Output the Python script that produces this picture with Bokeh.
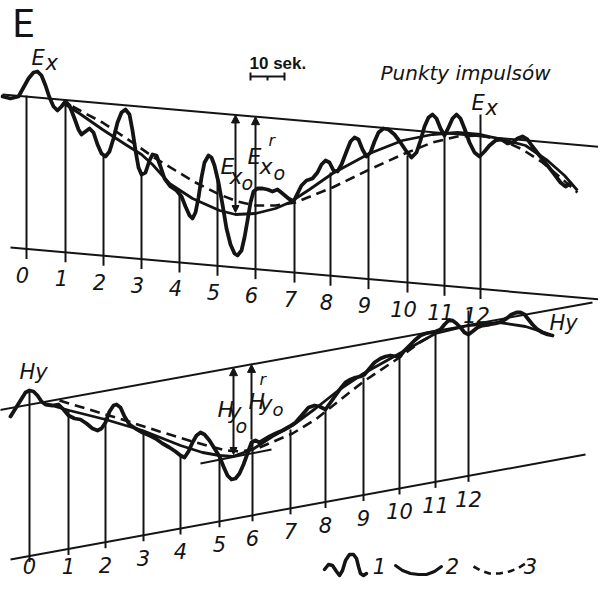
import numpy as np
from bokeh.plotting import figure
from bokeh.models import Range1d, Arrow, NormalHead
from bokeh.core.properties import value
from bokeh.embed import file_html
from bokeh.resources import INLINE

# ---------------- data ----------------
IMPULSE_LABELS = [str(i) for i in range(13)]

# Panel E (Ex)
E_IMPULSE_X = [34, 73, 111, 149, 187, 225, 263, 302, 338, 376, 415, 452, 488]
E_IMPULSE_TOP = [103, 110, 163, 182, 198, 186, 196, 210, 180, 163, 163, 143, 122]
E_UPPER_X = [10, 614]
E_UPPER_Y = [102, 155]
E_LOWER_X = [18, 607]
E_LOWER_Y = [255, 307]
E_RAW_X = [10, 18, 26, 31, 36, 41, 45, 49, 53, 57, 61, 65, 69, 73, 77, 82, 86, 89, 93, 97,
           101, 105, 109, 113, 117, 121, 125, 129, 133, 137, 140, 143, 146, 149, 153, 157,
           160, 164, 168, 172, 178, 184, 189, 193, 197, 200, 203, 206, 209, 212, 216, 219,
           222, 226, 230, 234, 238, 242, 245, 249, 252, 255, 258, 261, 265, 270, 275, 280,
           285, 290, 296, 301, 305, 309, 314, 320, 325, 329, 333, 337, 341, 345, 349, 354,
           358, 362, 366, 370, 374, 378, 382, 386, 391, 396, 402, 408, 414, 419, 424, 428,
           432, 436, 440, 444, 448, 452, 456, 460, 464, 468, 472, 477, 482, 487, 492, 497,
           503, 509, 515, 520, 525, 530, 535, 540, 547, 555, 562, 568, 573, 578]
E_RAW_Y = [104, 106, 104, 95, 86, 80, 79, 83, 93, 105, 114, 118, 114, 109, 113, 126, 137, 142, 139, 136,
           140, 152, 161, 164, 159, 146, 130, 120, 117, 122, 138, 158, 175, 182, 180, 168,
           162, 163, 174, 186, 194, 198, 204, 214, 223, 226, 220, 205, 185, 170, 163, 165,
           173, 190, 212, 236, 252, 261, 263, 258, 245, 228, 210, 199, 196, 196, 197, 199,
           197, 201, 206, 209, 201, 193, 188, 186, 180, 172, 168, 170, 178, 179, 172, 159,
           149, 145, 147, 157, 164, 160, 149, 140, 136, 137, 142, 150, 159, 165, 160, 148,
           134, 125, 122, 126, 136, 143, 135, 126, 122, 126, 136, 150, 160, 164, 159, 153,
           148, 147, 151, 150, 146, 144, 147, 154, 163, 173, 182, 190, 194, 191]
E_TREND_X = [70, 87, 110, 133, 149, 160, 177, 200, 227, 243, 263, 283, 297, 317, 340, 377,
             410, 440, 465, 488, 510, 533, 555, 572, 585]
E_TREND_Y = [110, 121, 137, 152, 162, 172, 191, 206, 218, 222, 221, 216, 210, 197, 181, 161,
             148, 142, 140, 142, 147, 153, 168, 183, 198]
E_MEAN_X = [80, 110, 143, 160, 183, 203, 227, 245, 263, 283, 303, 340, 377, 410, 440, 465,
            488, 510, 530, 550, 568, 585]
E_MEAN_Y = [114, 130, 152, 164, 178, 190, 202, 209, 213, 213, 210, 195, 177, 162, 150, 144,
            143, 148, 157, 170, 185, 200]
E_REF_X = [243, 263]
E_REF_Y = [220, 196]

# Panel H (Hy)
H_IMPULSE_X = [37, 76, 113, 151, 188, 227, 260, 298, 333, 371, 407, 443, 476]
H_IMPULSE_TOP = [398, 418, 425, 440, 462, 462, 447, 437, 418, 385, 364, 340, 318]
H_UPPER_X = [5, 600]
H_UPPER_Y = [418, 310]
H_LOWER_X = [18, 593]
H_LOWER_Y = [567, 462]
H_RAW_X = [18, 23, 28, 33, 37, 41, 45, 49, 53, 60, 66, 71, 76, 82, 88, 94, 100, 105, 109, 113,
           117, 121, 124, 128, 132, 137, 143, 150, 157, 163, 170, 177, 183, 188, 192, 196,
           200, 204, 208, 212, 217, 222, 227, 231, 235, 239, 243, 247, 251, 255, 259, 263,
           267, 272, 277, 283, 290, 297, 303, 310, 316, 322, 327, 333, 338, 343, 348, 353,
           358, 363, 368, 372, 377, 382, 388, 393, 398, 404, 408, 412, 417, 422, 428, 433,
           438, 443, 448, 452, 456, 460, 464, 468, 472, 476, 480, 485, 490, 497, 503, 509,
           514, 519, 524, 528, 532, 536, 540, 545, 550, 555, 560]
H_RAW_Y = [424, 416, 408, 400, 398, 399, 403, 409, 412, 413, 412, 417, 423, 426, 427, 431, 436, 438, 436, 430,
           419, 413, 412, 415, 424, 432, 436, 440, 443, 446, 451, 455, 459, 463, 465, 459,
           450, 443, 440, 442, 448, 456, 464, 474, 483, 487, 486, 481, 472, 461, 450, 448,
           450, 447, 444, 441, 438, 434, 430, 422, 415, 413, 414, 417, 410, 403, 396, 390,
           387, 385, 384, 382, 376, 370, 366, 364, 363, 364, 363, 358, 353, 348, 343, 341,
           340, 339, 337, 332, 328, 328, 331, 335, 340, 342, 339, 335, 333, 332, 331, 329,
           326, 322, 320, 320, 322, 327, 332, 337, 340, 342, 343]
H_TREND_X = [52, 77, 113, 150, 188, 210, 227, 240, 260, 280, 300, 323, 347, 371, 407, 443,
             476, 507, 533, 558]
H_TREND_Y = [411, 418, 427, 438, 453, 460, 463, 464, 457, 444, 433, 416, 397, 381, 361, 341,
             333, 330, 334, 342]
H_MEAN_X = [67, 100, 133, 167, 200, 233, 250, 267, 300, 323, 333, 371, 407, 427, 443]
H_MEAN_Y = [408, 418, 428, 439, 449, 458, 459, 455, 441, 427, 419, 389, 365, 350, 341]
H_REF_X = [241, 259]
H_REF_Y = [462, 447]
H_TANGENT_X = [208, 279]
H_TANGENT_Y = [471, 457]

# legend sample shapes
LEG_RAW_X = [332, 336, 340, 344, 347, 350, 353, 357, 361, 364, 366, 368, 371, 374]
LEG_RAW_Y = [577, 572, 573, 579, 583, 578, 568, 562, 562, 566, 574, 581, 583, 581]
LEG_TREND_X = [403, 410, 418, 426, 434, 442, 449]
LEG_TREND_Y = [573, 578, 581, 582, 582, 579, 574]
LEG_MEAN_X = [481, 488, 497, 507, 517, 525, 533]
LEG_MEAN_Y = [574, 578, 581, 581, 579, 576, 571]
LEGEND_LABELS = ["1", "2", "3"]

INK = "#141414"
FONT = "DejaVu Sans"
BOTTOM_LIMIT = 573  # lowest label centre that still fits the page

# ---------------- figure ----------------
p = figure(width=598, height=578, x_range=Range1d(8, 606), y_range=Range1d(586, 8),
           x_axis_type=None, y_axis_type=None, output_backend="svg",
           toolbar_location=None, min_border=0)
p.grid.visible = False
p.outline_line_color = None
p.background_fill_color = "white"
p.border_fill_color = "white"


def line_at(xs, ys, x):
    x = np.asarray(x, dtype=float)
    return ys[0] + (x - xs[0]) * (ys[1] - ys[0]) / (xs[1] - xs[0])


def txt(x, base, s, size, italic=True, font=FONT, align="left", weight=None):
    """place text so that its alphabetic baseline sits at `base`."""
    style = "italic" if italic else "normal"
    if weight == "bold":
        style = "bold italic" if italic else "bold"
    p.text(x=[x], y=[base - 0.35 * size], text=[s], text_font=value(font),
           text_font_size=f"{size}px", text_font_style=style, text_color=INK,
           text_align=align, text_baseline="middle")


def panel(ix, itop, ux, uy, lx, ly, rawx, rawy, trx, try_, mnx, mny, refx, refy,
          label_dy, label_dx, tail):
    # envelope lines
    p.line(ux, uy, line_color=INK, line_width=2)
    p.line(lx, ly, line_color=INK, line_width=2)
    ix = np.array(ix, dtype=float)
    bottoms = line_at(lx, ly, ix) + tail
    p.segment(x0=ix, y0=itop, x1=ix, y1=bottoms, line_color=INK, line_width=2)
    # curves
    p.line(mnx, mny, line_color=INK, line_width=2.6, line_dash="10 6")
    p.line(trx, try_, line_color=INK, line_width=2.8, line_join="round")
    p.line(rawx, rawy, line_color=INK, line_width=3.8, line_join="round", line_cap="round")
    # impulse numbers
    ly_lab = np.minimum(line_at(lx, ly, ix) + label_dy, BOTTOM_LIMIT)
    p.text(x=ix + label_dx, y=ly_lab, text=IMPULSE_LABELS,
           text_font=value(FONT), text_font_size="21px", text_font_style="italic",
           text_color=INK, text_align="center", text_baseline="middle")
    # reference arrows
    up = line_at(ux, uy, refx)
    p.add_layout(Arrow(start=NormalHead(size=7, fill_color=INK, line_color=INK),
                       end=NormalHead(size=8, fill_color=INK, line_color=INK),
                       x_start=refx[0], y_start=refy[0], x_end=refx[0], y_end=float(up[0]),
                       line_color=INK, line_width=2))
    p.add_layout(Arrow(end=NormalHead(size=8, fill_color=INK, line_color=INK),
                       x_start=refx[1], y_start=refy[1], x_end=refx[1], y_end=float(up[1]),
                       line_color=INK, line_width=2))


panel(E_IMPULSE_X, E_IMPULSE_TOP, E_UPPER_X, E_UPPER_Y, E_LOWER_X, E_LOWER_Y,
      E_RAW_X, E_RAW_Y, E_TREND_X, E_TREND_Y, E_MEAN_X, E_MEAN_Y, E_REF_X, E_REF_Y,
      label_dy=26, label_dx=-4, tail=10)
panel(H_IMPULSE_X, H_IMPULSE_TOP, H_UPPER_X, H_UPPER_Y, H_LOWER_X, H_LOWER_Y,
      H_RAW_X, H_RAW_Y, H_TREND_X, H_TREND_Y, H_MEAN_X, H_MEAN_Y, H_REF_X, H_REF_Y,
      label_dy=23, label_dx=0, tail=6)
p.line(H_TANGENT_X, H_TANGENT_Y, line_color=INK, line_width=2)

# legend samples
p.line(LEG_RAW_X, LEG_RAW_Y, line_color=INK, line_width=3.5, line_join="round", line_cap="round")
p.line(LEG_TREND_X, LEG_TREND_Y, line_color=INK, line_width=3, line_cap="round")
p.line(LEG_MEAN_X, LEG_MEAN_Y, line_color=INK, line_width=2.6, line_dash="7 5")
p.text(x=[LEG_RAW_X[-1] + 13, LEG_TREND_X[-1] + 11, LEG_MEAN_X[-1] + 5],
       y=[BOTTOM_LIMIT] * 3, text=LEGEND_LABELS, text_font=value(FONT),
       text_font_size="21px", text_font_style="italic", text_color=INK,
       text_align="center", text_baseline="middle")

# scale bar "10 sek."
p.segment(x0=[258], y0=[84], x1=[292], y1=[84], line_color=INK, line_width=2)
p.segment(x0=[258, 275, 292], y0=[80, 84, 80], x1=[258, 275, 292], y1=[88, 88, 88],
          line_color=INK, line_width=2)
txt(257, 77, "10 sek.", 17, italic=False, font="Liberation Sans", weight="bold")

# titles and labels
txt(20, 45, "E", 38, italic=False, font="Roboto")
txt(388, 87, "Punkty impulsów", 20)
txt(39, 73, "E", 21)
txt(53, 78, "x", 21)
txt(479, 118, "E", 21)
txt(493, 123, "x", 21)
txt(27, 387, "Hy", 21)
txt(557, 338, "Hy", 21)

# Ex0 and Ex0^r
txt(228, 182, "E", 22)
txt(237, 192, "x", 22)
txt(249, 197, "o", 19)
txt(255, 172, "E", 22)
txt(267, 182, "x", 22)
txt(281, 187, "o", 19)
txt(276, 154, "r", 16)
# Hy0 and Hy0^r
txt(225, 425, "H", 22)
txt(236, 427, "y", 22)
txt(243, 440, "o", 19)
txt(256, 417, "H", 22)
txt(267, 419, "y", 22)
txt(280, 423, "o", 18)
txt(267, 393, "r", 16)

open("out.html", "w").write(file_html(p, INLINE))
